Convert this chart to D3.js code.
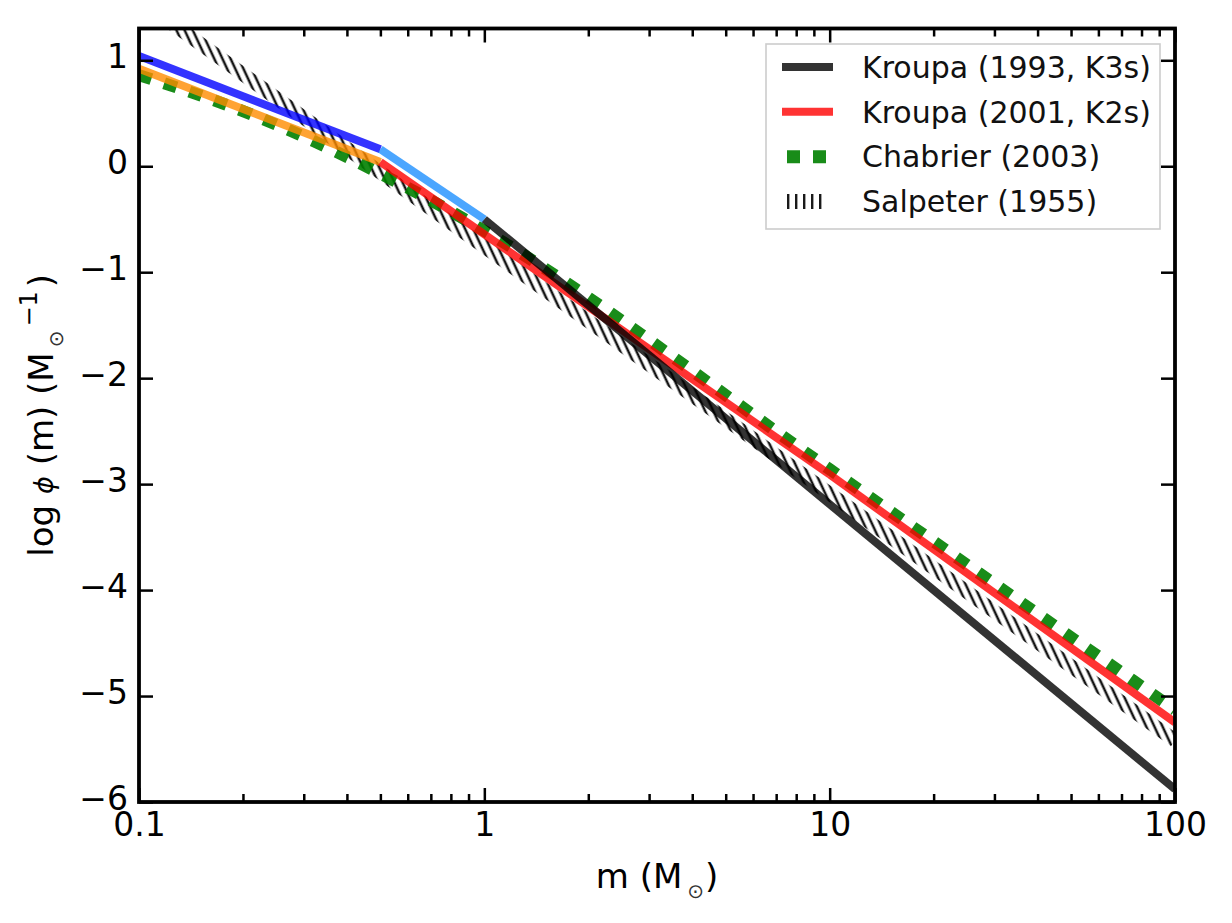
<!DOCTYPE html>
<html>
<head>
<meta charset="utf-8">
<script src="https://cdn.jsdelivr.net/npm/d3@7"></script>
<style>
body { margin: 0; background: #fff; }
text { font-family: "DejaVu Sans", sans-serif; }
</style>
</head>
<body>
<svg id="svg"></svg>
<script>
// mass in solar masses, phi values are log10
var massTicks = [0.1, 1, 10, 100];
var massTickLabels = ["0.1", "1", "10", "100"];
var massMinorTicks = [0.2, 0.3, 0.4, 0.5, 0.6, 0.7, 0.8, 0.9, 2, 3, 4, 5, 6, 7, 8, 9, 20, 30, 40, 50, 60, 70, 80, 90];
var phiTicks = [1, 0, -1, -2, -3, -4, -5, -6];

var k93Mass = [0.1, 0.5, 1, 100];
var k93Phi = [1.04, 0.16, -0.50, -5.88];
var k93Colors = ["blue", "#1e90ff", "black"];

var k01Mass = [0.1, 0.5, 10, 100];
var k01Phi = [0.92, 0.04, -2.91, -5.25];
var k01Colors = ["#ff8c00", "red", "red"];

var chabMass = [0.1, 0.2, 0.3, 0.5, 0.7, 1, 10, 100];
var chabPhi = [0.86, 0.52, 0.28, -0.07, -0.32, -0.61, -2.86, -5.13];

var salpMass = [0.1, 100];
var salpPhi = [1.57, -5.42];

var legendLabels = ["Kroupa (1993, K3s)", "Kroupa (2001, K2s)", "Chabrier (2003)", "Salpeter (1955)"];

var totalWidth = 1232, totalHeight = 923;
var margin = {left: 139, right: 57, top: 28.5, bottom: 121};
var width = totalWidth - margin.left - margin.right;
var height = totalHeight - margin.top - margin.bottom;

var svg = d3.select("#svg").attr("width", totalWidth).attr("height", totalHeight);

var xScale = d3.scaleLog().domain([0.1, 100]).range([0, width]);
var yScale = d3.scaleLinear().domain([-6, 1.3]).range([height, 0]);

var defs = svg.append("defs");
defs.append("clipPath")
    .attr("id", "clip")
    .append("rect")
    .attr("x", 0)
    .attr("y", 0)
    .attr("width", width)
    .attr("height", height);

// slanted ticks used for the Salpeter band
var hatch = defs.append("pattern")
    .attr("id", "hatch")
    .attr("patternUnits", "userSpaceOnUse")
    .attr("width", 7.4)
    .attr("height", 7.4)
    .attr("patternTransform", "rotate(-25)");
hatch.append("rect")
    .attr("x", 2.4)
    .attr("y", 0)
    .attr("width", 2.5)
    .attr("height", 7.4)
    .attr("fill", "#151515");

var plot = svg.append("g").attr("transform", `translate(${margin.left}, ${margin.top})`);
var container = plot.append("g").attr("clip-path", "url(#clip)");

var line = d3.line()
    .x(d => xScale(d[0]))
    .y(d => yScale(d[1]));

function pairs(ms, ps) {
    return ms.map((m, i) => [m, ps[i]]);
}

function segments(ms, ps) {
    return d3.range(ms.length - 1).map(i => [[ms[i], ps[i]], [ms[i + 1], ps[i + 1]]]);
}

// Salpeter
container.append("path")
    .datum(pairs(salpMass, salpPhi))
    .attr("fill", "none")
    .attr("stroke", "url(#hatch)")
    .attr("stroke-width", 14)
    .attr("d", line);

// Chabrier
container.append("path")
    .datum(pairs(chabMass, chabPhi))
    .attr("fill", "none")
    .attr("stroke", "green")
    .attr("stroke-opacity", 0.9)
    .attr("stroke-width", 12)
    .attr("stroke-dasharray", "13,13.5")
    .attr("d", d3.line()
        .x(d => xScale(d[0]))
        .y(d => yScale(d[1]))
        .curve(d3.curveMonotoneX));

// Kroupa 2001
container.selectAll("path.k01")
    .data(segments(k01Mass, k01Phi))
    .join("path")
    .attr("class", "k01")
    .attr("fill", "none")
    .attr("stroke", (d, i) => k01Colors[i])
    .attr("stroke-opacity", 0.8)
    .attr("stroke-width", 8)
    .attr("stroke-linecap", "butt")
    .attr("d", line);

// Kroupa 1993
container.selectAll("path.k93")
    .data(segments(k93Mass, k93Phi))
    .join("path")
    .attr("class", "k93")
    .attr("fill", "none")
    .attr("stroke", (d, i) => k93Colors[i])
    .attr("stroke-opacity", 0.8)
    .attr("stroke-width", 8)
    .attr("stroke-linecap", "butt")
    .attr("d", line);

// axes, ticks pointing inward on all four sides
function styleAxis(g) {
    g.select(".domain").remove();
    g.selectAll(".tick line").attr("stroke", "black").attr("stroke-width", 2.5);
    g.selectAll(".tick text")
        .attr("fill", "black")
        .style("font-family", "DejaVu Sans")
        .style("font-size", "33px");
}

plot.append("g")
    .attr("transform", `translate(0, ${height})`)
    .call(d3.axisBottom(xScale).tickValues(massTicks).tickSize(-14).tickPadding(11)
        .tickFormat((d, i) => massTickLabels[i]))
    .call(styleAxis);
plot.append("g")
    .attr("transform", `translate(0, ${height})`)
    .call(d3.axisBottom(xScale).tickValues(massMinorTicks).tickSize(-8).tickFormat(""))
    .call(styleAxis);
plot.append("g")
    .call(d3.axisTop(xScale).tickValues(massTicks).tickSize(-14).tickFormat(""))
    .call(styleAxis);
plot.append("g")
    .call(d3.axisTop(xScale).tickValues(massMinorTicks).tickSize(-8).tickFormat(""))
    .call(styleAxis);
plot.append("g")
    .call(d3.axisLeft(yScale).tickValues(phiTicks).tickSize(-14).tickPadding(11)
        .tickFormat(d3.format("d")))
    .call(styleAxis)
    .call(g => g.selectAll(".tick text").attr("dy", "0.22em"));
plot.append("g")
    .attr("transform", `translate(${width}, 0)`)
    .call(d3.axisRight(yScale).tickValues(phiTicks).tickSize(-14).tickFormat(""))
    .call(styleAxis);

plot.append("rect")
    .attr("x", 0)
    .attr("y", 0)
    .attr("width", width)
    .attr("height", height)
    .attr("fill", "none")
    .attr("stroke", "black")
    .attr("stroke-width", 3.8);

// axis labels
var xLabel = svg.append("text")
    .attr("x", margin.left + width / 2)
    .attr("y", 888)
    .attr("text-anchor", "middle")
    .style("font-size", "34px")
    .attr("fill", "black");
xLabel.append("tspan").text("m (M");
xLabel.append("tspan").attr("dx", 5).attr("dy", 10).style("font-size", "20px").attr("fill", "#333").text("⊙");
xLabel.append("tspan").attr("dx", 1).attr("dy", -10).text(")");

var yLabel = svg.append("text")
    .attr("transform", `translate(53, ${margin.top + height / 2}) rotate(-90)`)
    .attr("text-anchor", "middle")
    .style("font-size", "34px")
    .attr("fill", "black");
yLabel.append("tspan").text("log ");
yLabel.append("tspan").style("font-style", "italic").style("font-size", "27px").text("ϕ");
yLabel.append("tspan").text(" (m) (M");
yLabel.append("tspan").attr("dx", 5).attr("dy", 10).style("font-size", "20px").attr("fill", "#333").text("⊙");
yLabel.append("tspan").attr("dx", 4).attr("dy", -26).style("font-size", "24px").text("−1");
yLabel.append("tspan").attr("dx", 4).attr("dy", 16).text(")");

// legend
var legend = svg.append("g").attr("transform", "translate(766, 44)");
legend.append("rect")
    .attr("x", 0)
    .attr("y", 0)
    .attr("width", 394)
    .attr("height", 185)
    .attr("fill", "white")
    .attr("stroke", "#cccccc")
    .attr("stroke-width", 1.6);

var rowY = d3.scaleLinear().domain([0, legendLabels.length - 1]).range([23, 157.5]);
var rows = legend.selectAll("g.row")
    .data(legendLabels)
    .join("g")
    .attr("class", "row")
    .attr("transform", (d, i) => `translate(0, ${rowY(i)})`);

rows.append("text")
    .attr("x", 96)
    .attr("y", 0)
    .attr("dy", "0.36em")
    .style("font-size", "30px")
    .attr("fill", "#111")
    .text(d => d);

var handleStyles = [
    {stroke: "black", opacity: 0.8, width: 8, dash: null, x1: 16, x2: 67},
    {stroke: "red", opacity: 0.8, width: 8, dash: null, x1: 16, x2: 67},
    {stroke: "green", opacity: 0.9, width: 13, dash: "13,13", x1: 21, x2: 61},
    {stroke: "#1a1a1a", opacity: 1, width: 15, dash: "2.4,5.6", x1: 21, x2: 61}
];
rows.append("line")
    .attr("x1", (d, i) => handleStyles[i].x1)
    .attr("x2", (d, i) => handleStyles[i].x2)
    .attr("y1", 0)
    .attr("y2", 0)
    .attr("stroke", (d, i) => handleStyles[i].stroke)
    .attr("stroke-opacity", (d, i) => handleStyles[i].opacity)
    .attr("stroke-width", (d, i) => handleStyles[i].width)
    .attr("stroke-dasharray", (d, i) => handleStyles[i].dash);
</script>
</body>
</html>
